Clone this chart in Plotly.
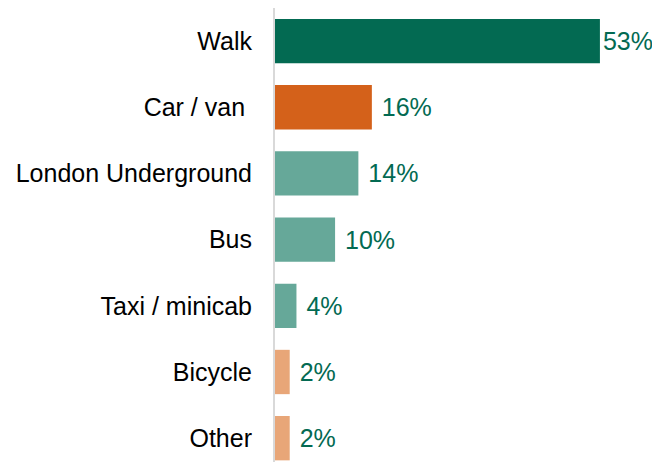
import plotly.graph_objects as go

# Main mode of travel (share of trips, %)
modes = ["Walk", "Car / van ", "London Underground", "Bus", "Taxi / minicab", "Bicycle", "Other"]
shares = [53.0, 15.8, 13.6, 9.8, 3.5, 2.4, 2.4]
share_labels = ["53%", "16%", "14%", "10%", "4%", "2%", "2%"]
bar_colors = ["#036A52", "#D4611A", "#66A899", "#66A899", "#66A899", "#E8A678", "#E8A678"]

fig = go.Figure()

# the page's default 8px body margin offsets the figure, so size it to the rest of the window
fig.add_trace(go.Bar(
    x=shares,
    y=modes,
    orientation="h",
    marker=dict(color=bar_colors, line=dict(width=0)),
    text=[s if i == 0 else " " + s for i, s in enumerate(share_labels)],
    textposition="outside",
    textfont=dict(color="#036A52", size=25, family="Liberation Sans, Arial"),
    cliponaxis=False,
    showlegend=False,
))

fig.update_layout(
    width=652,
    height=454,
    margin=dict(l=267, r=0, t=0, b=0, autoexpand=False),
    plot_bgcolor="white",
    paper_bgcolor="white",
    bargap=0.33,
    font=dict(family="Liberation Sans, Arial", size=25, color="black"),
    xaxis=dict(
        range=[0, 62.8],
        showgrid=False,
        zeroline=False,
        showticklabels=False,
        showline=False,
    ),
    yaxis=dict(
        range=[6.36, -0.5],
        showgrid=False,
        zeroline=False,
        showline=True,
        linecolor="#D9D9D9",
        linewidth=2,
        ticks="",
        ticklabelstandoff=16,
        tickfont=dict(size=25, color="black"),
    ),
)

fig.write_html("out.html")
